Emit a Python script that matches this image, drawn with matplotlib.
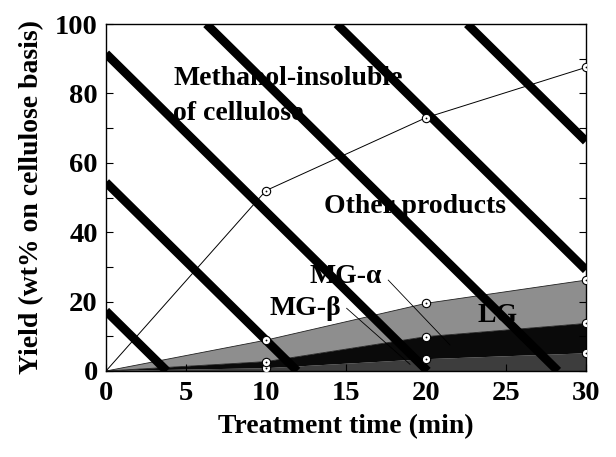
import numpy as np
import matplotlib
matplotlib.use("Agg")
import matplotlib.pyplot as plt
from matplotlib.ticker import MultipleLocator

plt.rcParams['font.family'] = ['Liberation Serif', 'DejaVu Serif']
plt.rcParams['font.weight'] = 'bold'

# ---- data ----
time_min = [0, 10, 20, 30]
mg_beta = [0.0, 0.8, 3.4, 5.1]
mg_alpha = [0.0, 1.9, 6.5, 8.6]
lg = [0.0, 6.2, 9.6, 12.5]
other_products = [0.0, 43.1, 53.5, 61.3]

layer_colors = ['#3d3d3d', '#0a0a0a', '#8e8e8e']

# decorative diagonal hatching (style only)
hatch_slope = -4.55
hatch_x0 = [3.8, 11.95, 20.1, 28.25, 36.4, 44.55]

fig = plt.figure(figsize=(6.16, 4.57), dpi=100)
ax = fig.add_axes([106/616, 1-371/457, 480/616, 347/457])

t = np.array(time_min)
c1 = np.array(mg_beta)
c2 = c1 + np.array(mg_alpha)
c3 = c2 + np.array(lg)
c4 = c3 + np.array(other_products)

ax.stackplot(t, mg_beta, mg_alpha, lg, colors=layer_colors, zorder=1, lw=0)
for c in (c2, c3):
    ax.plot(t, c, color='#202020', lw=0.6, zorder=1.5)
ax.plot(t, c4, color='black', lw=0.7, zorder=1.5)

# labels (under hatching)
tkw = dict(fontsize=20, fontweight='bold', zorder=2, color='black')
ax.text(4.2, 82.4, 'Methanol-insoluble', **tkw)
ax.text(4.2, 72.3, 'of cellulose', **tkw)
ax.text(13.6, 45.5, 'Other products', **tkw)
ax.text(12.75, 25.4, 'MG-\u03b1', **tkw)
ax.text(10.25, 16.1, 'MG-\u03b2', **tkw)
ax.text(23.2, 14.2, 'LG', **tkw)
ax.plot([17.64, 21.5], [26.2, 7.5], color='black', lw=0.6, zorder=2)
ax.plot([15.04, 19.0], [18.07, 1.93], color='black', lw=0.6, zorder=2)

for x0 in hatch_x0:
    ax.axline((x0, 0), slope=hatch_slope, color='black', lw=6.3, zorder=3,
              solid_capstyle='butt')

# markers
for c in (c1, c2, c3, c4):
    ax.plot(t[1:], c[1:], ls='none', marker='o', ms=6, mfc='white',
            mec='black', mew=0.8, zorder=4)
    ax.plot(t[1:], c[1:], ls='none', marker='o', ms=1.3, mfc='black',
            mec='black', mew=0, zorder=5)

ax.set_xlim(0, 30)
ax.set_ylim(0, 100)
ax.xaxis.set_major_locator(MultipleLocator(5))
ax.yaxis.set_major_locator(MultipleLocator(20))
ax.yaxis.set_minor_locator(MultipleLocator(10))
ax.tick_params(which='both', direction='in', right=True, top=False,
               labelsize=20.5, width=0.8)
ax.tick_params(which='major', length=5)
ax.tick_params(which='minor', length=5)
ax.tick_params(axis='x', pad=7)
ax.tick_params(axis='y', pad=6)
for lab in ax.get_xticklabels() + ax.get_yticklabels():
    lab.set_fontweight('bold')
for s in ax.spines.values():
    s.set_linewidth(1.0)

ax.set_xlabel('Treatment time (min)', fontsize=20, fontweight='bold', labelpad=6)
ax.set_ylabel('Yield (wt% on cellulose basis)', fontsize=20, fontweight='bold',
              labelpad=8)

fig.savefig('out.png', dpi=100)
